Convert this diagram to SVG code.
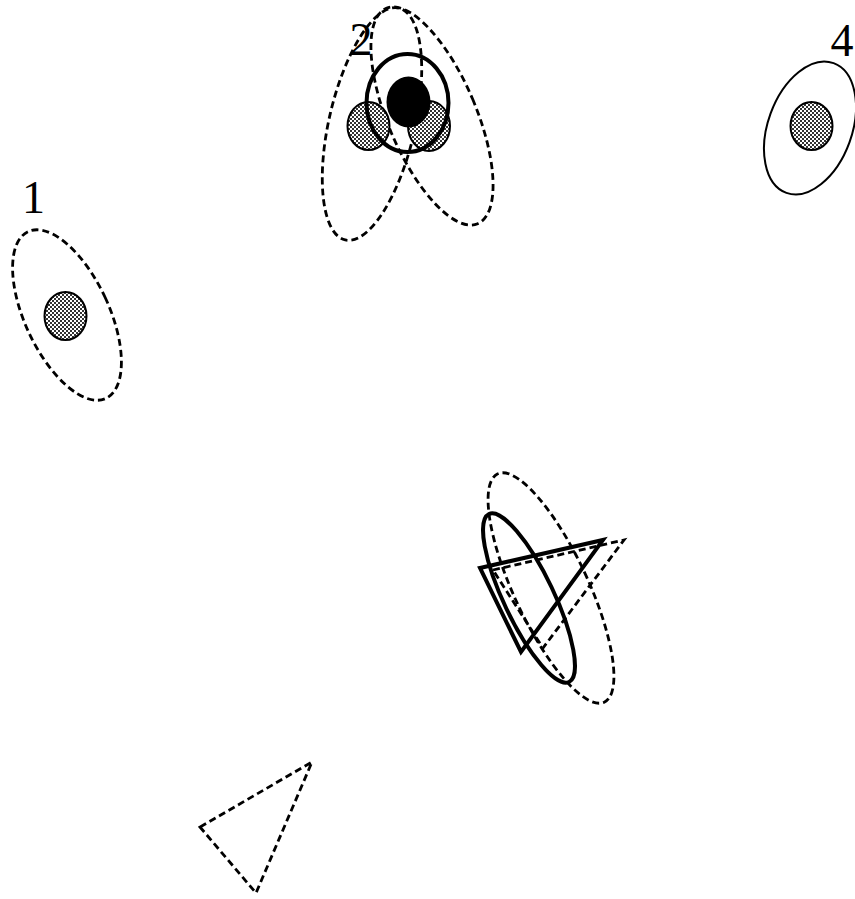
<svg xmlns="http://www.w3.org/2000/svg" width="855" height="899" viewBox="0 0 855 899">
<defs>
<pattern id="chk" width="4" height="4" patternUnits="userSpaceOnUse">
<rect width="4" height="4" fill="#fff"/>
<rect width="2" height="2" fill="#333"/>
<rect x="2" y="2" width="2" height="2" fill="#333"/>
</pattern>
</defs>
<style>
.d{fill:none;stroke:#000;stroke-width:2.8;stroke-dasharray:7 4}
.s{fill:url(#chk);stroke:#000;stroke-width:2}
.t{fill:none;stroke:#000;stroke-width:4}
.n{fill:none;stroke:#000;stroke-width:2}
.lbl{font-family:"Liberation Serif",serif;font-size:46px;text-anchor:middle;fill:#000}
</style>
<rect width="855" height="899" fill="#fff"/>
<g id="node1">
<ellipse class="d" cx="67" cy="315" rx="42" ry="92" transform="rotate(-25 67 315)"/>
<ellipse class="s" cx="65.5" cy="316" rx="21" ry="24"/>
<text class="lbl" x="33.5" y="213">1</text>
</g>
<g id="node2">
<ellipse class="d" cx="372" cy="124" rx="43" ry="119" transform="rotate(13 372 124)"/>
<ellipse class="d" cx="432" cy="116" rx="44" ry="117" transform="rotate(-23 432 116)"/>
<ellipse class="s" cx="368.5" cy="126" rx="21" ry="24"/>
<ellipse class="s" cx="429" cy="126" rx="21" ry="25"/>
<ellipse cx="408.5" cy="102" rx="22" ry="25.5" fill="#000"/>
<ellipse class="t" cx="407.5" cy="103" rx="41" ry="49"/>
<text class="lbl" x="361" y="55">2</text>
</g>
<g id="node4">
<ellipse class="n" cx="810" cy="128" rx="42" ry="69" transform="rotate(20 810 128)"/>
<ellipse class="s" cx="811.5" cy="126" rx="21" ry="24"/>
<text class="lbl" x="842" y="56">4</text>
</g>
<g id="node5">
<ellipse class="d" cx="551" cy="588" rx="37" ry="126" transform="rotate(-25 551 588)"/>
<polygon class="d" points="493,570 624,540 543,648"/>
<ellipse class="t" cx="529" cy="598" rx="25" ry="93" transform="rotate(-25.5 529 598)"/>
<polygon class="t" points="480,568 603,540 521,652" stroke-linejoin="miter"/>
</g>
<g id="node6">
<polygon class="d" points="200,827 312,762 256,893"/>
</g>
<g id="connectors"></g>
</svg>
